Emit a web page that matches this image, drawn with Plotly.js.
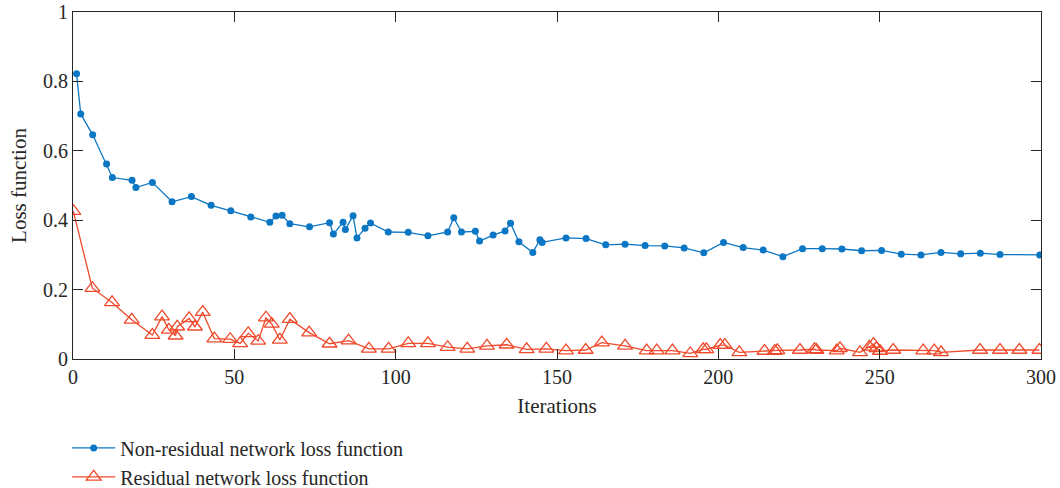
<!DOCTYPE html>
<html>
<head>
<meta charset="utf-8">
<script src="https://cdn.plot.ly/plotly-3.0.1.min.js"></script>
<style>html,body{margin:0;padding:0;background:#fff;}#chart{width:1060px;height:488px;}</style>
</head>
<body>
<div id="chart"></div>
<script>
const nonResX = [1.1, 2.4, 6.1, 10.4, 12.2, 18.3, 19.5, 24.6, 30.7, 36.7, 42.8, 48.9, 55.1, 61.0, 62.9, 64.8, 67.2, 73.3,
  79.5, 80.7, 83.7, 84.4, 86.8, 88.0, 90.5, 92.2, 97.7, 103.9, 110.0, 116.1, 118.0, 120.4, 124.7, 126.0, 130.2, 133.9, 135.6,
  138.2, 142.5, 144.7, 145.4, 152.8, 159.0, 165.1, 171.1, 177.3, 183.4, 189.4, 195.5, 201.6, 207.7, 213.9, 220.0,
  226.1, 232.2, 238.3, 244.4, 250.6, 256.7, 262.8, 269.0, 275.1, 281.2, 287.3, 299.6];
const nonResY = [0.822, 0.706, 0.646, 0.562, 0.523, 0.515, 0.494, 0.509, 0.453, 0.468, 0.443, 0.427, 0.409, 0.394, 0.412, 0.414, 0.390, 0.381,
  0.393, 0.360, 0.394, 0.373, 0.413, 0.349, 0.377, 0.392, 0.366, 0.365, 0.355, 0.366, 0.407, 0.366, 0.368, 0.340, 0.357, 0.369, 0.391,
  0.338, 0.307, 0.344, 0.336, 0.349, 0.347, 0.329, 0.331, 0.327, 0.326, 0.320, 0.306, 0.336, 0.321, 0.314, 0.295,
  0.318, 0.318, 0.317, 0.312, 0.313, 0.302, 0.300, 0.307, 0.303, 0.305, 0.301, 0.300];

const resX = [0.1, 6.0, 12.1, 18.2, 24.6, 27.6, 29.7, 31.8, 32.3, 36.0, 37.8, 40.2, 43.8, 48.7, 51.8, 54.3, 57.4, 59.8, 61.6, 64.1, 67.2, 73.2,
  79.5, 85.4, 91.7, 97.8, 103.9, 110.0, 116.1, 122.2, 128.3, 134.4, 140.6, 146.7,
  152.8, 158.9, 163.9, 171.1, 177.8, 180.9, 185.8, 191.3, 195.3, 196.3, 200.6, 202.0, 206.5, 214.3, 217.5, 218.3,
  225.3, 229.8, 230.4, 236.7, 237.7, 243.9, 246.8, 248.1, 249.0, 250.1, 254.2, 263.5, 266.9, 269.0, 281.1, 287.3, 293.3, 299.5];
const resY = [0.426, 0.204, 0.163, 0.113, 0.069, 0.122, 0.084, 0.067, 0.093, 0.117, 0.093, 0.135, 0.059, 0.057, 0.045, 0.074, 0.052, 0.119, 0.101, 0.055, 0.115, 0.076,
  0.044, 0.053, 0.029, 0.029, 0.045, 0.045, 0.034, 0.029, 0.038, 0.041, 0.028, 0.029,
  0.024, 0.026, 0.047, 0.038, 0.024, 0.024, 0.024, 0.016, 0.028, 0.028, 0.040, 0.040, 0.019, 0.023, 0.023, 0.025,
  0.026, 0.028, 0.026, 0.024, 0.031, 0.019, 0.035, 0.043, 0.031, 0.023, 0.026, 0.024, 0.024, 0.019, 0.026, 0.026, 0.026, 0.026];

const xTicks = [0, 50, 100, 150, 200, 250, 300];
const yTicks = [0, 0.2, 0.4, 0.6, 0.8, 1];
const seriesNames = ['Non-residual network loss function', 'Residual network loss function'];

const blue = '#0b76c4';
const red = '#ef4a2c';
const fontFam = '"Liberation Serif", "DejaVu Serif", serif';
const txt = '#262626';

const traces = [
  {x: nonResX, y: nonResY, name: seriesNames[0], type: 'scatter', mode: 'lines+markers',
   line: {color: blue, width: 1.3}, marker: {symbol: 'circle', size: 7, color: blue}},
  {x: resX, y: resY, name: seriesNames[1], type: 'scatter', mode: 'lines+markers',
   line: {color: red, width: 1.3}, marker: {symbol: 'triangle-up-open', size: 13, color: red, line: {width: 1.3, color: red}}}
];

const axisCommon = {
  showgrid: false, zeroline: false, showline: true, linecolor: txt, linewidth: 1,
  mirror: 'ticks', ticks: 'inside', ticklen: 10, tickcolor: txt, tickwidth: 1,
  tickfont: {family: fontFam, size: 20, color: txt}, automargin: false
};

const layout = {
  width: 1060, height: 488,
  margin: {l: 73, r: 19, t: 12, b: 129, autoexpand: false},
  paper_bgcolor: '#fff', plot_bgcolor: '#fff',
  font: {family: fontFam, size: 20, color: txt},
  xaxis: Object.assign({}, axisCommon, {range: [0, 300], tickvals: xTicks, ticktext: xTicks.map(String),
    title: {text: 'Iterations', font: {family: fontFam, size: 21, color: txt}, standoff: 11}}),
  yaxis: Object.assign({}, axisCommon, {range: [0, 1], tickvals: yTicks, ticktext: yTicks.map(String),
    title: {text: 'Loss function', font: {family: fontFam, size: 21, color: txt}, standoff: 10}}),
  showlegend: true,
  legend: {x: -0.006, xanchor: 'left', y: -0.2, yanchor: 'top', orientation: 'v',
    font: {family: fontFam, size: 20, color: txt}, bgcolor: 'rgba(0,0,0,0)', itemwidth: 43}
};

Plotly.newPlot('chart', traces, layout, {displayModeBar: false, staticPlot: true});
</script>
</body>
</html>
